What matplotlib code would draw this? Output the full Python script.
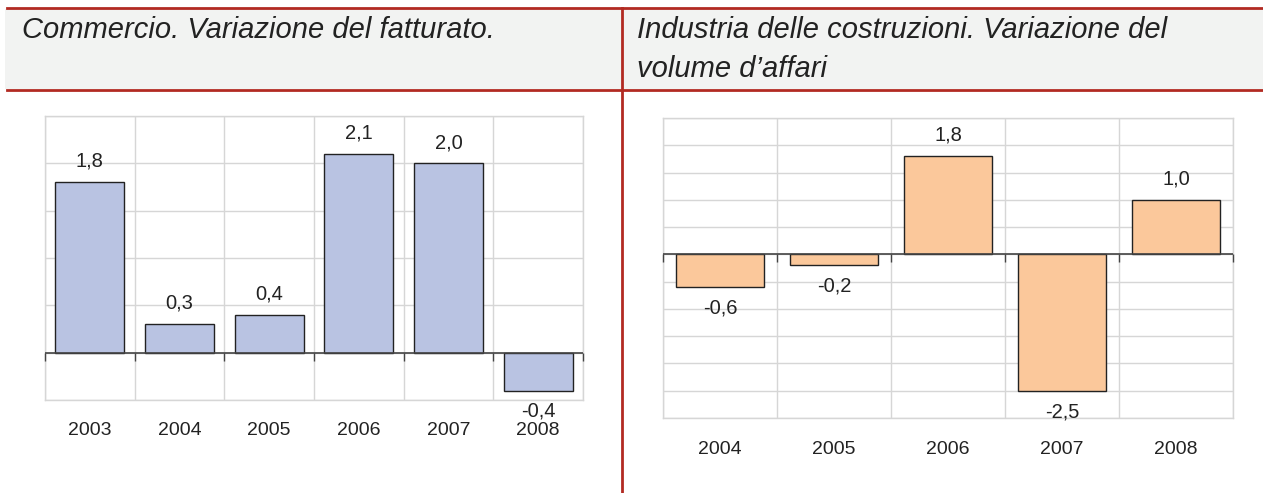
import matplotlib
matplotlib.use("Agg")
import matplotlib.pyplot as plt
from matplotlib.patches import Rectangle
from matplotlib.lines import Line2D
import numpy as np

# ---- data ----
years_left = ["2003", "2004", "2005", "2006", "2007", "2008"]
values_left = [1.8, 0.3, 0.4, 2.1, 2.0, -0.4]
years_right = ["2004", "2005", "2006", "2007", "2008"]
values_right = [-0.6, -0.2, 1.8, -2.5, 1.0]
title_left = "Commercio. Variazione del fatturato."
title_right = "Industria delle costruzioni. Variazione del\nvolume d\u2019affari"

W, H = 1263, 493
plt.rcParams['font.family'] = ['Liberation Sans', 'DejaVu Sans']
fig = plt.figure(figsize=(W / 100, H / 100), dpi=100)

RED = "#b22a22"
GRID = "#d6d6d6"

def fx(px):
    return px / W

def fy(py):
    return 1 - py / H

# header band
fig.add_artist(Rectangle((fx(5), fy(89)), fx(1263) - fx(5), fy(9) - fy(89),
                         transform=fig.transFigure, facecolor="#f2f3f2", edgecolor="none", zorder=0))
fig.add_artist(Line2D([fx(7), 1], [fy(8), fy(8)], transform=fig.transFigure, color=RED, lw=2))
fig.add_artist(Line2D([fx(7), 1], [fy(89.5), fy(89.5)], transform=fig.transFigure, color=RED, lw=2))
fig.add_artist(Line2D([fx(622), fx(622)], [fy(8), 0], transform=fig.transFigure, color=RED, lw=2))

fig.text(fx(22), fy(30), title_left, fontsize=21, style="italic", color="#222222",
         va="center", ha="left")
fig.text(fx(637), fy(49.5), title_right, fontsize=21, style="italic", color="#222222",
         va="center", ha="left", linespacing=1.54)


def draw(ax, cats, vals, ylim, color, label_pad_pt, tick_pad):
    n = len(cats)
    x = np.arange(n)
    bounds = np.arange(-0.5, n - 0.4, 1.0)
    ax.set_xlim(-0.5, n - 0.5)
    ax.set_ylim(*ylim)
    bars = ax.bar(x, vals, width=0.77, color=color, edgecolor="#222222", linewidth=1.0, zorder=3)
    ax.set_yticks(np.arange(ylim[0], ylim[1] + 0.01, 0.5))
    ax.set_xticks(x)
    ax.set_xticklabels(cats, fontsize=14, color="#222222")
    ax.set_xticks(bounds, minor=True)
    ax.tick_params(axis="x", which="both", length=0, pad=tick_pad)
    ax.tick_params(axis="y", which="both", length=0, labelleft=False)
    ax.grid(True, axis="y", which="major", color=GRID, lw=1, zorder=0)
    ax.grid(True, axis="x", which="minor", color=GRID, lw=1, zorder=0)
    for s in ax.spines.values():
        s.set_color(GRID)
        s.set_linewidth(1)
    # zero axis with boundary tick marks
    ax.axhline(0, color="#444444", lw=1.2, zorder=4)
    ax.plot(bounds, np.zeros_like(bounds), linestyle="none", marker=3, markersize=6,
            markeredgewidth=1, color="#444444", zorder=4, clip_on=False)
    for b, v in zip(bars, vals):
        lbl = f"{v:.1f}".replace(".", ",")
        off = label_pad_pt if v >= 0 else -label_pad_pt
        ax.annotate(lbl, (b.get_x() + b.get_width() / 2, v), xytext=(0, off),
                    textcoords="offset points", ha="center", va="center",
                    fontsize=14.5, color="#222222", zorder=5)


axL = fig.add_axes([fx(45), fy(400), fx(583) - fx(45), fy(116) - fy(400)])
draw(axL, years_left, values_left, (-0.5, 2.5), "#b9c3e2", 15, 15.5)

axR = fig.add_axes([fx(663), fy(418), fx(1233) - fx(663), fy(118) - fy(418)])
draw(axR, years_right, values_right, (-3.0, 2.5), "#fbc89b", 15, 16.5)

fig.savefig("out.png", dpi=100)
